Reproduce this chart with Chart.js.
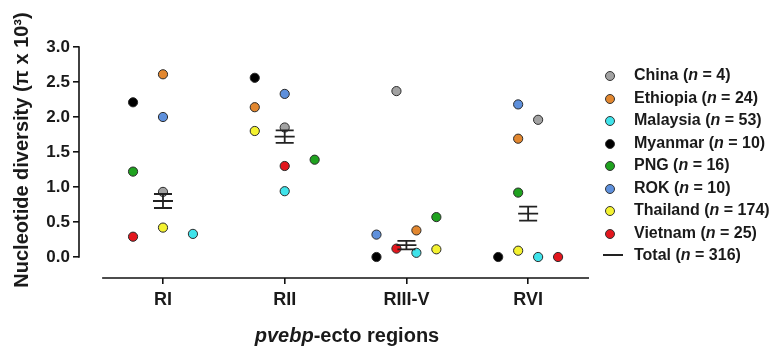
<!DOCTYPE html>
<html>
<head>
<meta charset="utf-8">
<script src="https://cdn.jsdelivr.net/npm/chart.js@4.4.1/dist/chart.umd.min.js"></script>
<style>
  body { margin: 0; background: #fff; }
  .wrap { position: relative; width: 781px; height: 347px; }
  .legend { position: absolute; left: 598px; top: 64px; font: bold 16px "Liberation Sans", Arial, sans-serif; color: #1a1a1a; }
  .legend .row { position: relative; height: 22.5px; line-height: 22px; padding-left: 36px; white-space: nowrap; }
  .legend .dot { position: absolute; left: 7px; top: 7px; width: 8px; height: 8px; border-radius: 50%; border: 1px solid #333; }
  .legend .bar { position: absolute; left: 5px; top: 10px; width: 20px; height: 2px; background: #222; }
</style>
</head>
<body>
<div class="wrap">
  <canvas id="chart" width="781" height="347"></canvas>
  <div class="legend" id="legend"></div>
</div>
<script>
// Data
const regions = ['RI', 'RII', 'RIII-V', 'RVI'];
const countries = ['China', 'Ethiopia', 'Malaysia', 'Myanmar', 'PNG', 'ROK', 'Thailand', 'Vietnam'];
const sampleSizes = [4, 24, 53, 10, 16, 10, 174, 25];
const totalSize = 316;

const chinaVals    = [0.93, 1.85, 2.37, 1.96];
const ethiopiaVals = [2.61, 2.14, 0.38, 1.69];
const malaysiaVals = [0.33, 0.94, 0.06, 0.00];
const myanmarVals  = [2.21, 2.56, 0.00, 0.00];
const pngVals      = [1.22, 1.39, 0.57, 0.92];
const rokVals      = [2.00, 2.33, 0.32, 2.18];
const thailandVals = [0.42, 1.80, 0.11, 0.09];
const vietnamVals  = [0.29, 1.30, 0.12, 0.00];

const totalMean = [0.80, 1.72, 0.17, 0.62];
const totalSem  = [0.10, 0.09, 0.06, 0.10];

const yTicks = [0, 0.5, 1.0, 1.5, 2.0, 2.5, 3.0];

// horizontal scatter slot of each dot within its region (as in the figure)
const jitterSlots = [
    [0, 0, -1, 1],    // China
    [0, -3, 1, -1],   // Ethiopia
    [3, 0, 1, 1],     // Malaysia
    [-3, -3, -3, -3], // Myanmar
    [-3, 3, 3, -1],   // PNG
    [0, 0, -3, -1],   // ROK
    [0, -3, 3, -1],   // Thailand
    [-3, 0, -1, 3]    // Vietnam
];
const slotWidth = 0.082;

const colors = ['#a2a2a2', '#e2872f', '#3fe3ea', '#000000', '#1fa21f', '#5e90dc', '#f4f230', '#e2161d'];
const FONT = '"Liberation Sans", Arial, sans-serif';

const allVals = [chinaVals, ethiopiaVals, malaysiaVals, myanmarVals, pngVals, rokVals, thailandVals, vietnamVals];

const datasets = countries.map(function(name, c) {
    return {
        label: name,
        data: allVals[c].map(function(v, r) {
            return { x: r + jitterSlots[c][r] * slotWidth, y: v };
        }),
        backgroundColor: colors[c],
        borderColor: '#2a2a2a',
        borderWidth: 1,
        pointRadius: 4.6,
        clip: false
    };
});

// Axes lines, mean +/- SEM and axis titles
const decorPlugin = {
    id: 'decor',
    afterDatasetsDraw: function(chart) {
        const ctx = chart.ctx;
        const xs = chart.scales.x;
        const ys = chart.scales.y;
        const area = chart.chartArea;
        ctx.save();
        ctx.strokeStyle = '#111';
        ctx.lineWidth = 1.6;

        // y axis line (0 to 3)
        ctx.beginPath();
        ctx.moveTo(area.left, ys.getPixelForValue(0) + 0.8);
        ctx.lineTo(area.left, ys.getPixelForValue(3) - 0.8);
        ctx.stroke();

        // x axis line
        ctx.beginPath();
        ctx.moveTo(xs.getPixelForValue(-0.5), area.bottom);
        ctx.lineTo(area.right, area.bottom);
        ctx.stroke();

        // mean and SEM
        ctx.strokeStyle = '#222';
        ctx.lineWidth = 1.8;
        regions.forEach(function(r, i) {
            const cx = xs.getPixelForValue(i);
            const ym = ys.getPixelForValue(totalMean[i]);
            const yt = ys.getPixelForValue(totalMean[i] + totalSem[i]);
            const yb = ys.getPixelForValue(totalMean[i] - totalSem[i]);
            ctx.beginPath();
            ctx.moveTo(cx - 10, ym); ctx.lineTo(cx + 10, ym);
            ctx.moveTo(cx - 9, yt); ctx.lineTo(cx + 9, yt);
            ctx.moveTo(cx - 9, yb); ctx.lineTo(cx + 9, yb);
            ctx.moveTo(cx, yt); ctx.lineTo(cx, yb);
            ctx.stroke();
        });

        // y title
        ctx.fillStyle = '#1a1a1a';
        ctx.save();
        ctx.translate(22, 150);
        ctx.rotate(-Math.PI / 2);
        ctx.font = 'bold 20px ' + FONT;
        ctx.textAlign = 'center';
        ctx.textBaseline = 'middle';
        ctx.fillText('Nucleotide diversity (\u03c0 x 10\u00b3)', 0, 0);
        ctx.restore();

        // x title with italic gene name
        const part1 = 'pvebp';
        const part2 = '-ecto regions';
        ctx.textBaseline = 'middle';
        ctx.textAlign = 'left';
        ctx.font = 'italic bold 20px ' + FONT;
        const w1 = ctx.measureText(part1).width;
        ctx.font = 'bold 20px ' + FONT;
        const w2 = ctx.measureText(part2).width;
        const mid = 347;
        const x0 = mid - (w1 + w2) / 2;
        const ty = 336;
        ctx.font = 'italic bold 20px ' + FONT;
        ctx.fillText(part1, x0, ty);
        ctx.font = 'bold 20px ' + FONT;
        ctx.fillText(part2, x0 + w1, ty);
        ctx.restore();
    }
};

const ctx = document.getElementById('chart').getContext('2d');
const chart = new Chart(ctx, {
    type: 'scatter',
    data: { datasets: datasets },
    options: {
        responsive: false,
        animation: false,
        devicePixelRatio: 1,
        layout: { padding: { top: 47, right: 192, bottom: 0, left: 0 } },
        plugins: {
            legend: { display: false },
            tooltip: { enabled: false }
        },
        scales: {
            x: {
                type: 'linear',
                min: -0.69,
                max: 3.5,
                afterBuildTicks: function(scale) {
                    scale.ticks = regions.map(function(r, i) { return { value: i }; });
                },
                afterFit: function(scale) { scale.height = 69; },
                ticks: {
                    autoSkip: false,
                    maxRotation: 0,
                    padding: 5,
                    color: '#1a1a1a',
                    font: { family: FONT, size: 18, weight: 'bold' },
                    callback: function(v) { return regions[v]; }
                },
                grid: { drawOnChartArea: false, tickLength: 6, color: '#111', lineWidth: 1.6 },
                border: { display: false }
            },
            y: {
                min: -0.3,
                max: 3.0,
                afterBuildTicks: function(scale) {
                    scale.ticks = yTicks.map(function(v) { return { value: v }; });
                },
                afterFit: function(scale) { scale.width = 79; },
                ticks: {
                    padding: 3,
                    color: '#1a1a1a',
                    font: { family: FONT, size: 17, weight: 'bold' },
                    callback: function(v) { return v.toFixed(1); }
                },
                grid: { drawOnChartArea: false, tickLength: 6, color: '#111', lineWidth: 1.6 },
                border: { display: false }
            }
        }
    },
    plugins: [decorPlugin]
});

// HTML legend
const legendEl = document.getElementById('legend');
countries.forEach(function(name, c) {
    const row = document.createElement('div');
    row.className = 'row';
    row.innerHTML = '<span class="dot" style="background:' + colors[c] + '"></span>' +
        name + ' (<i>n</i> = ' + sampleSizes[c] + ')';
    legendEl.appendChild(row);
});
const totalRow = document.createElement('div');
totalRow.className = 'row';
totalRow.innerHTML = '<span class="bar"></span>Total (<i>n</i> = ' + totalSize + ')';
legendEl.appendChild(totalRow);
</script>
</body>
</html>
